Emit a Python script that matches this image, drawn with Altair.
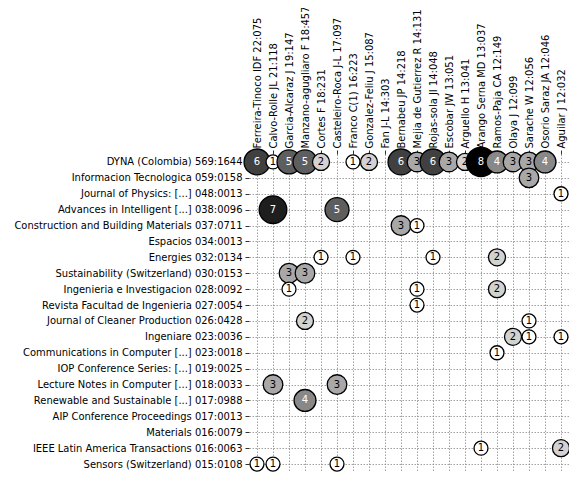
import altair as alt
import pandas as pd

authors = [
    "Ferreira-Tinoco IDF 22:075", "Calvo-Rolle JL 21:118", "Garcia-Alcaraz J 19:147",
    "Manzano-agugliaro F 18:457", "Cortes F 18:231", "Casteleiro-Roca J-L 17:097",
    "Franco C(1) 16:223", "Gonzalez-Feliu J 15:087", "Fan J-L 14:303", "Bernabeu JP 14:218",
    "Mejia de Gutierrez R 14:131", "Rojas-sola JI 14:048", "Escobar JW 13:051",
    "Arguello H 13:041", "Arango Serna MD 13:037", "Ramos-Paja CA 12:149", "Olaya J 12:099",
    "Sarache W 12:056", "Osorio Saraz JA 12:046", "Aguilar J 12:032",
]

sources = [
    "DYNA (Colombia) 569:1644", "Informacion Tecnologica 059:0158",
    "Journal of Physics: [...] 048:0013", "Advances in Intelligent [...] 038:0096",
    "Construction and Building Materials 037:0711", "Espacios 034:0013",
    "Energies 032:0134", "Sustainability (Switzerland) 030:0153",
    "Ingenieria e Investigacion 028:0092", "Revista Facultad de Ingenieria 027:0054",
    "Journal of Cleaner Production 026:0428", "Ingeniare 023:0036",
    "Communications in Computer [...] 023:0018", "IOP Conference Series: [...] 019:0025",
    "Lecture Notes in Computer [...] 018:0033", "Renewable and Sustainable [...] 017:0988",
    "AIP Conference Proceedings 017:0013", "Materials 016:0079",
    "IEEE Latin America Transactions 016:0063", "Sensors (Switzerland) 015:0108",
]

# cells: source index, author index, count
cell_source = [0, 0, 0, 0, 0, 0, 0, 0, 0, 0, 0, 0, 0, 0, 0, 0, 0,
               1, 2, 3, 3, 4, 4,
               6, 6, 6, 6,
               7, 7,
               8, 8, 8,
               9,
               10, 10,
               11, 11, 11,
               12,
               14, 14,
               15,
               18, 18,
               19, 19, 19]
cell_author = [0, 1, 2, 3, 4, 6, 7, 9, 10, 11, 12, 13, 14, 15, 16, 17, 18,
               17, 19, 1, 5, 9, 10,
               4, 6, 11, 15,
               2, 3,
               2, 10, 15,
               10,
               3, 17,
               16, 17, 19,
               15,
               1, 5,
               3,
               14, 19,
               0, 1, 5]
cell_count = [6, 1, 5, 5, 2, 1, 2, 6, 3, 6, 3, 2, 8, 4, 3, 3, 4,
              3, 1, 7, 5, 3, 1,
              1, 1, 1, 2,
              3, 3,
              1, 1, 2,
              1,
              2, 1,
              2, 1, 1,
              1,
              3, 3,
              4,
              1, 2,
              1, 1, 1]

df = pd.DataFrame({
    "source": [sources[i] for i in cell_source],
    "author": [authors[j] for j in cell_author],
    "count": cell_count,
})

FONT = "DejaVu Sans"

x_enc = alt.X("author:N", sort=authors,
              scale=alt.Scale(type="point", domain=authors, padding=0.5),
              axis=alt.Axis(orient="top", title=None, labelAngle=-90, grid=True,
                            labelPadding=2))
y_enc = alt.Y("source:N", sort=sources,
              scale=alt.Scale(type="point", domain=sources, padding=0.5),
              axis=alt.Axis(orient="left", title=None, grid=True, labelPadding=3))

base = alt.Chart(df).encode(x=x_enc, y=y_enc)

circles = base.mark_circle(stroke="black", strokeWidth=1.3, opacity=1).encode(
    size=alt.Size("count:Q", scale=alt.Scale(domain=[1, 8], range=[195, 860]), legend=None),
    color=alt.Color("count:Q",
                    scale=alt.Scale(domain=[1, 2, 3, 4, 5, 6, 7, 8],
                                    range=["#ffffff", "#d2d2d2", "#a8a8a8", "#888888",
                                           "#5e5e5e", "#404040", "#1e1e1e", "#000000"]),
                    legend=None),
)

labels = base.mark_text(font=FONT, fontSize=10).encode(
    text="count:Q",
    color=alt.condition(alt.datum["count"] >= 4, alt.value("white"), alt.value("black")),
)

chart = (circles + labels).properties(
    width=320, height=318,
    autosize=alt.AutoSizeParams(type="none"),
    padding={"left": 241, "top": 146, "right": 0, "bottom": 1},
).configure_view(stroke=None).configure_axis(
    domain=False,
    labelFont=FONT, labelFontSize=9.95, labelColor="black",
    tickSize=4, tickColor="#333", tickWidth=1,
    gridDash=[1.5, 1.5], gridColor="#8a8a8a", gridWidth=0.8,
    labelLimit=400,
)

chart.save("out.html", embed_options={"renderer": "svg", "actions": False})
